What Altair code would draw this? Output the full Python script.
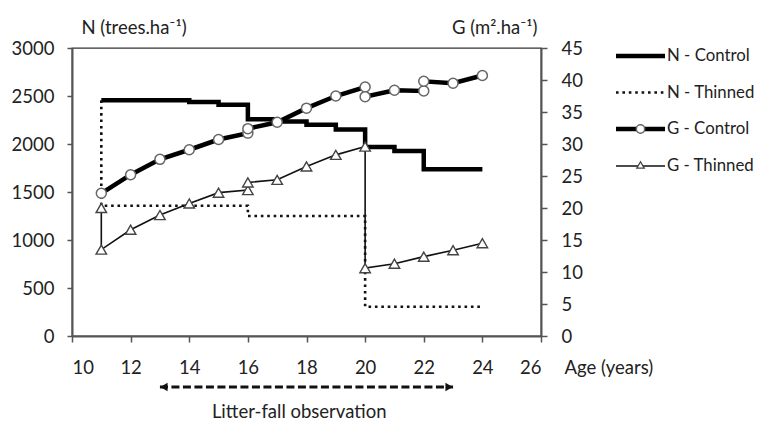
import altair as alt
import pandas as pd

# Stand density N (trees/ha), control plot
age_nc = [11, 12, 13, 14, 15, 16, 17, 18, 19, 20, 21, 22, 23, 24]
n_control = [2455, 2455, 2455, 2437, 2410, 2257, 2235, 2200, 2150, 1968, 1928, 1737, 1737, 1737]

# Stand density N (trees/ha), thinned plot (thinning at 11 and 20 years)
age_nt = [11, 11, 12, 13, 14, 15, 16, 17, 18, 19, 20, 20, 21, 22, 23, 24]
n_thinned = [2455, 1357, 1357, 1357, 1357, 1357, 1250, 1250, 1250, 1250, 1250, 305, 305, 305, 305, 305]

# Basal area G (m2/ha), control plot
age_gc = [11, 12, 13, 14, 15, 16, 16, 17, 18, 19, 20, 20, 21, 22, 22, 23, 24]
g_control = [22.3, 25.2, 27.6, 29.1, 30.7, 31.7, 32.4, 33.4, 35.6, 37.5, 38.9, 37.4, 38.4, 38.3, 39.8, 39.5, 40.7]

# Basal area G (m2/ha), thinned plot
age_gt = [11, 11, 12, 13, 14, 15, 16, 16, 17, 18, 19, 20, 20, 21, 22, 23, 24]
g_thinned = [20.0, 13.5, 16.6, 18.9, 20.7, 22.4, 22.8, 24.0, 24.4, 26.5, 28.3, 29.6, 10.6, 11.3, 12.4, 13.4, 14.5]

# Litter-fall observation period (years)
obs_start, obs_end = 13, 23

FONT = "Lato"
INK = "#222222"
FS = 18.5

df_nc = pd.DataFrame({"age": age_nc, "v": n_control, "i": range(len(age_nc))})
df_nt = pd.DataFrame({"age": age_nt, "v": n_thinned, "i": range(len(age_nt))})
df_gc = pd.DataFrame({"age": age_gc, "v": g_control, "i": range(len(age_gc))})
df_gt = pd.DataFrame({"age": age_gt, "v": g_thinned, "i": range(len(age_gt))})

x_axis = alt.Axis(
    values=list(range(10, 27)),
    labelExpr="datum.value % 2 == 0 ? datum.label : ''",
    title="Age (years)",
    titleAngle=0, titleAlign="left", titleBaseline="middle",
    titleX=492, titleY=31, titleFont=FONT, titleFontSize=FS,
    titleFontWeight="normal", titleColor=INK,
    labelFont=FONT, labelFontSize=FS, labelColor=INK, labelPadding=16,
    tickSize=6, tickColor="#555", tickWidth=1.5,
    domainColor="#555", domainWidth=2, grid=False,
)
x_enc = alt.X("age:Q", scale=alt.Scale(domain=[10, 26], nice=False, zero=False), axis=x_axis)

n_scale = alt.Scale(domain=[0, 3000], nice=False)
g_scale = alt.Scale(domain=[0, 45], nice=False)

n_axis = alt.Axis(
    orient="left", values=list(range(0, 3001, 500)), format="d",
    title="N (trees.ha⁻¹)", titleAngle=0, titleAlign="left", titleBaseline="middle",
    titleX=9, titleY=-21, titleFont=FONT, titleFontSize=FS,
    titleFontWeight="normal", titleColor=INK,
    labelFont=FONT, labelFontSize=FS, labelColor=INK, labelPadding=13,
    tickSize=5, tickColor="#555", tickWidth=1.5,
    domainColor="#555", domainWidth=2, grid=False,
)
g_axis = alt.Axis(
    orient="right", values=list(range(0, 46, 5)),
    title="G (m².ha⁻¹)", titleAngle=0, titleAlign="right", titleBaseline="middle",
    titleX=-4, titleY=-21, titleFont=FONT, titleFontSize=FS,
    titleFontWeight="normal", titleColor=INK,
    labelFont=FONT, labelFontSize=FS, labelColor=INK, labelPadding=14,
    tickSize=6, tickColor="#555", tickWidth=1.5,
    domainColor="#555", domainWidth=2, grid=False,
)

# Density lines (left axis)
n_ctrl = alt.Chart(df_nc).mark_line(
    interpolate="step-after", color="#000", strokeWidth=4.5
).encode(x=x_enc, y=alt.Y("v:Q", scale=n_scale, axis=n_axis), order="i:Q")

n_thin = alt.Chart(df_nt).mark_line(
    interpolate="step-after", color="#111", strokeWidth=2.6, strokeDash=[2.6, 3.8]
).encode(x=x_enc, y=alt.Y("v:Q", scale=n_scale, axis=n_axis), order="i:Q")

# Litter-fall observation arrow beneath the x axis
df_obs = pd.DataFrame({"a": [obs_start], "b": [obs_end], "m": [(obs_start + obs_end) / 2 - 0.25],
                       "label": ["Litter-fall observation"]})
obs_line = alt.Chart(df_obs).mark_rule(
    color="#111", strokeWidth=3, strokeDash=[8, 3.5]
).encode(x=alt.X("a:Q"), x2="b:Q", y=alt.value(339))
obs_left = alt.Chart(df_obs).mark_point(
    shape="triangle-left", filled=True, color="#111", size=70, opacity=1, xOffset=4
).encode(x=alt.X("a:Q"), y=alt.value(339))
obs_right = alt.Chart(df_obs).mark_point(
    shape="triangle-right", filled=True, color="#111", size=70, opacity=1, xOffset=-4
).encode(x=alt.X("b:Q"), y=alt.value(339))
obs_text = alt.Chart(df_obs).mark_text(
    font=FONT, fontSize=FS, color=INK, baseline="middle", align="center"
).encode(x=alt.X("m:Q"), y=alt.value(364), text="label:N")

# Hand-built legend to the right of the plot
LX0, LX1, LXT = 544, 593, 595
LFS = 16.8
rows_y = [8, 44.5, 81, 118]
legend_layers = [
    alt.Chart(df_obs).mark_rule(color="#000", strokeWidth=4.5).encode(
        x=alt.value(LX0), x2=alt.value(LX1), y=alt.value(rows_y[0])),
    alt.Chart(df_obs).mark_rule(color="#111", strokeWidth=2.6, strokeDash=[2.6, 3.8]).encode(
        x=alt.value(LX0), x2=alt.value(LX1), y=alt.value(rows_y[1])),
    alt.Chart(df_obs).mark_rule(color="#000", strokeWidth=4.5).encode(
        x=alt.value(LX0), x2=alt.value(LX1), y=alt.value(rows_y[2])),
    alt.Chart(df_obs).mark_point(shape="circle", filled=True, fill="white", stroke="#666",
                                 strokeWidth=1.5, size=70, opacity=1).encode(
        x=alt.value((LX0 + LX1) / 2), y=alt.value(rows_y[2])),
    alt.Chart(df_obs).mark_rule(color="#111", strokeWidth=1.5).encode(
        x=alt.value(LX0), x2=alt.value(LX1), y=alt.value(rows_y[3])),
    alt.Chart(df_obs).mark_point(shape="triangle-up", filled=True, fill="white", stroke="#444",
                                 strokeWidth=1.3, size=55, opacity=1).encode(
        x=alt.value((LX0 + LX1) / 2), y=alt.value(rows_y[3] - 1)),
]
for yy, name in zip(rows_y, ["N - Control", "N - Thinned", "G - Control", "G - Thinned"]):
    legend_layers.append(
        alt.Chart(pd.DataFrame({"t": [name]})).mark_text(
            font=FONT, fontSize=LFS, color=INK, align="left", baseline="middle"
        ).encode(x=alt.value(LXT), y=alt.value(yy), text="t:N")
    )

n_group = alt.layer(n_ctrl, n_thin, obs_line, obs_left, obs_right, obs_text, *legend_layers)

# Basal area lines (right axis)
g_ctrl_line = alt.Chart(df_gc).mark_line(color="#000", strokeWidth=4.5).encode(
    x=x_enc, y=alt.Y("v:Q", scale=g_scale, axis=g_axis), order="i:Q")
g_ctrl_pts = alt.Chart(df_gc).mark_point(
    shape="circle", filled=True, fill="white", stroke="#666", strokeWidth=1.5, size=100, opacity=1
).encode(x=x_enc, y=alt.Y("v:Q", scale=g_scale, axis=g_axis))
g_thin_line = alt.Chart(df_gt).mark_line(color="#111", strokeWidth=1.6).encode(
    x=x_enc, y=alt.Y("v:Q", scale=g_scale, axis=g_axis), order="i:Q")
g_thin_pts = alt.Chart(df_gt).mark_point(
    shape="triangle-up", filled=True, fill="white", stroke="#444", strokeWidth=1.4, size=110, opacity=1
).encode(x=x_enc, y=alt.Y("v:Q", scale=g_scale, axis=g_axis))

g_group = alt.layer(g_thin_line, g_thin_pts, g_ctrl_line, g_ctrl_pts)

chart = alt.layer(n_group, g_group).resolve_scale(y="independent").properties(
    width=469, height=288,
    autosize=alt.AutoSizeParams(type="none"),
    padding={"left": 72, "top": 48, "right": 221, "bottom": 86},
    background="white",
).configure_view(stroke="#333", strokeWidth=1.3)

chart.save("out.html", embed_options={"renderer": "svg", "actions": False})
